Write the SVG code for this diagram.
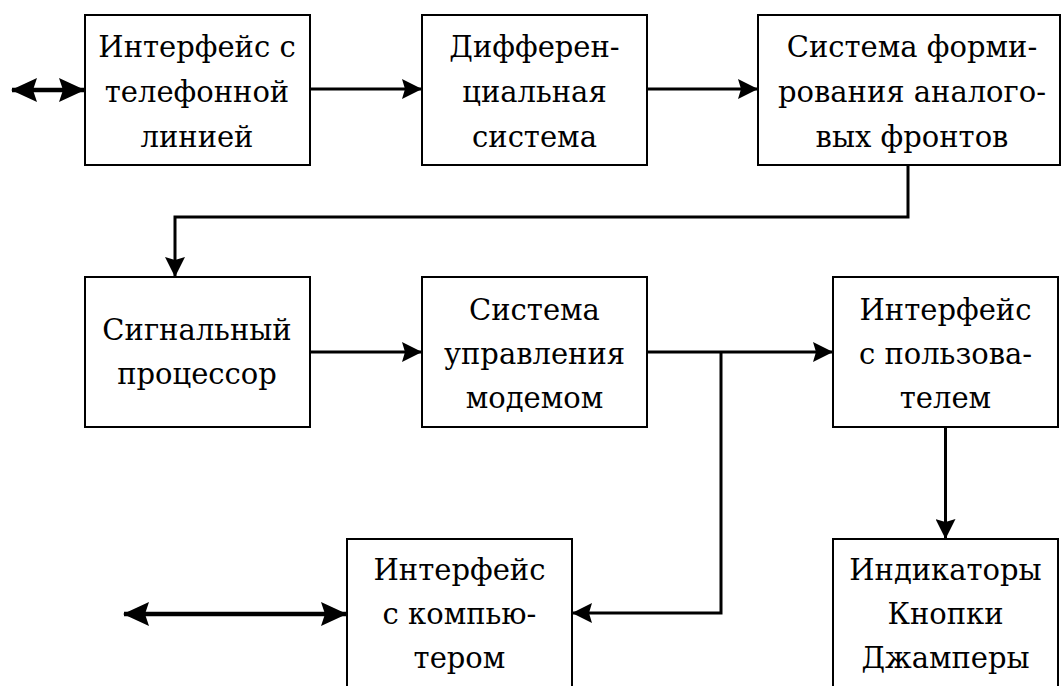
<svg xmlns="http://www.w3.org/2000/svg" width="1062" height="686" viewBox="0 0 1062 686">
<style>
.box{fill:#fff;stroke:#000;stroke-width:2}
.t{font-family:'DejaVu Serif','Liberation Serif',serif;font-size:29px;text-anchor:middle;fill:#000}
.c{fill:none;stroke:#000;stroke-width:3}
.d{fill:none;stroke:#000;stroke-width:4.5}
</style>
<defs>
<marker id="ah" markerUnits="userSpaceOnUse" markerWidth="20" markerHeight="20" refX="19" refY="10" orient="auto" viewBox="0 0 20 20">
<path d="M0,0 L20,10 L0,20 L3,10 z" fill="#000"/>
</marker>
<marker id="dh" markerUnits="userSpaceOnUse" markerWidth="26" markerHeight="24" refX="25" refY="12" orient="auto-start-reverse" viewBox="0 0 26 24">
<path d="M0,0 L26,12 L0,24 L4,12 z" fill="#000"/>
</marker>
</defs>
<rect width="1062" height="686" fill="#fff"/>
<g id="connectors">
<line class="d" x1="12" y1="90" x2="84" y2="90" marker-start="url(#dh)" marker-end="url(#dh)"/>
<line class="c" x1="310" y1="89" x2="421" y2="89" marker-end="url(#ah)"/>
<line class="c" x1="647" y1="89" x2="757" y2="89" marker-end="url(#ah)"/>
<path class="c" d="M908,165 V217 H175 V276" marker-end="url(#ah)"/>
<line class="c" x1="310" y1="352" x2="421" y2="352" marker-end="url(#ah)"/>
<line class="c" x1="647" y1="352" x2="832" y2="352" marker-end="url(#ah)"/>
<path class="c" d="M721,352 V613 H573" marker-end="url(#ah)"/>
<line class="c" x1="945.5" y1="427" x2="945.5" y2="538" marker-end="url(#ah)"/>
<line class="d" x1="124" y1="614" x2="346" y2="614" marker-start="url(#dh)" marker-end="url(#dh)"/>
</g>
<g id="n1"><rect class="box" x="85" y="15" width="225" height="150"/>
<text class="t" x="197" y="57">Интерфейс с</text><text class="t" x="197" y="102">телефонной</text><text class="t" x="197" y="147">линией</text></g>
<g id="n2"><rect class="box" x="422" y="15" width="225" height="150"/>
<text class="t" x="534.5" y="57">Дифферен-</text><text class="t" x="534.5" y="102">циальная</text><text class="t" x="534.5" y="147">система</text></g>
<g id="n3"><rect class="box" x="758" y="15" width="302" height="150"/>
<text class="t" x="912" y="57">Система форми-</text><text class="t" x="912" y="102">рования аналого-</text><text class="t" x="912" y="147">вых фронтов</text></g>
<g id="n4"><rect class="box" x="85" y="277" width="225" height="150"/>
<text class="t" x="197" y="340">Сигнальный</text><text class="t" x="197" y="384">процессор</text></g>
<g id="n5"><rect class="box" x="422" y="277" width="225" height="150"/>
<text class="t" x="534.5" y="320">Система</text><text class="t" x="534.5" y="364">управления</text><text class="t" x="534.5" y="408">модемом</text></g>
<g id="n6"><rect class="box" x="833" y="277" width="225" height="150"/>
<text class="t" x="945.5" y="320">Интерфейс</text><text class="t" x="945.5" y="364">с пользова-</text><text class="t" x="945.5" y="408">телем</text></g>
<g id="n7"><rect class="box" x="347" y="539" width="225" height="160"/>
<text class="t" x="459.5" y="580">Интерфейс</text><text class="t" x="459.5" y="624">с компью-</text><text class="t" x="459.5" y="668">тером</text></g>
<g id="n8"><rect class="box" x="833" y="539" width="225" height="160"/>
<text class="t" x="945.5" y="580">Индикаторы</text><text class="t" x="945.5" y="624">Кнопки</text><text class="t" x="945.5" y="668">Джамперы</text></g>
</svg>
